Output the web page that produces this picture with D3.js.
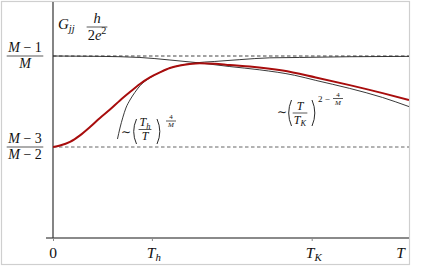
<!DOCTYPE html>
<html>
<head>
<meta charset="utf-8">
<script src="https://cdn.jsdelivr.net/npm/d3@7"></script>
<style>
  html, body { margin: 0; padding: 0; background: #fff; }
  svg { display: block; }
</style>
</head>
<body>
<svg id="chart" width="436" height="266"></svg>
<script>
// T in units of T_h, G in arbitrary units (upper plateau 0.75, lower 0.5)
var Th = 1, TK = 2.616, xMax = 3.6;
var upperLevel = 0.75, lowerLevel = 0.5;

// full crossover curve (red)
var redT = [0, 0.071, 0.172, 0.273, 0.374, 0.475, 0.576, 0.677, 0.778, 0.879, 0.980, 1.081, 1.182, 1.283, 1.384, 1.485, 1.636, 1.788, 1.990, 2.323, 2.657, 3.0, 3.333, 3.6];
var redG = [0.5, 0.504, 0.514, 0.532, 0.555, 0.580, 0.603, 0.628, 0.651, 0.673, 0.691, 0.705, 0.717, 0.724, 0.728, 0.730, 0.729, 0.725, 0.721, 0.710, 0.691, 0.670, 0.648, 0.629];

// ~ (T/T_K)^(2-4/M) asymptote
var kondoT = [0, 0.475, 0.879, 1.182, 1.485, 1.788, 2.091, 2.444, 2.657, 3.0, 3.333, 3.6];
var kondoG = [0.75, 0.749, 0.746, 0.739, 0.731, 0.721, 0.712, 0.697, 0.683, 0.661, 0.636, 0.611];

// ~ (T_h/T)^(4/M) asymptote
var hT = [0.652, 0.677, 0.707, 0.737, 0.778, 0.828, 0.879, 0.980, 1.081, 1.182, 1.283, 1.434, 1.636, 1.889, 2.192, 2.495, 3.0, 3.6];
var hG = [0.522, 0.552, 0.582, 0.607, 0.629, 0.650, 0.668, 0.690, 0.705, 0.717, 0.724, 0.731, 0.735, 0.740, 0.745, 0.746, 0.748, 0.749];

var xTicks = [0, Th, TK];
var xTickLabels = [[{t:"0"}], [{t:"T", i:true}, {t:"h", i:true, sub:true}], [{t:"T", i:true}, {t:"K", i:true, sub:true}]];

var FONT = "'Liberation Serif', 'DejaVu Serif', serif";

var svg = d3.select("#chart");

var x = d3.scaleLinear().domain([0, xMax]).range([53, 409]);
var y = d3.scaleLinear().domain([0.25, 0.9]).range([238, 1.4]);

function mathText(g, px, py, parts, size, anchor) {
  var t = g.append("text")
    .attr("x", px).attr("y", py)
    .attr("font-family", FONT)
    .attr("font-size", size)
    .attr("text-anchor", anchor || "middle")
    .attr("fill", "#111");
  var cur = 0;
  parts.forEach(function(p) {
    var shift = p.sub ? size * 0.2 : (p.sup ? -size * 0.4 : 0);
    var s = t.append("tspan").text(p.t).attr("dy", shift - cur);
    cur = shift;
    if (p.i) s.attr("font-style", "italic");
    if (p.sub || p.sup) s.attr("font-size", size * 0.7);
  });
  return t;
}

function mathFrac(g, cx, barY, num, den, size) {
  var a = mathText(g, cx, barY - size * 0.28, num, size);
  var b = mathText(g, cx, barY + size * 0.88, den, size);
  var w = Math.max(a.node().getBBox().width, b.node().getBBox().width) + 2;
  g.append("line")
    .attr("x1", cx - w / 2).attr("x2", cx + w / 2)
    .attr("y1", barY).attr("y2", barY)
    .attr("stroke", "#111").attr("stroke-width", 0.7);
}

function paren(g, px, y0, y1, open) {
  var w = 3.5, m = (y0 + y1) / 2;
  var d = open
    ? "M" + (px + w) + "," + y0 + " Q" + (px - w * 0.6) + "," + m + " " + (px + w) + "," + y1
    : "M" + px + "," + y0 + " Q" + (px + w * 1.6) + "," + m + " " + px + "," + y1;
  g.append("path").attr("d", d).attr("fill", "none").attr("stroke", "#111").attr("stroke-width", 0.9);
}

// frame
svg.append("rect")
  .attr("x", 1.5).attr("y", 1.5).attr("width", 408).attr("height", 263)
  .attr("fill", "none").attr("stroke", "#cfcfcf").attr("stroke-width", 1.2);

svg.append("clipPath").attr("id", "plotClip")
  .append("rect").attr("x", 53).attr("y", 2).attr("width", 356).attr("height", 236);

// x axis
var xAxis = svg.append("g")
  .attr("transform", "translate(0,238)")
  .call(d3.axisBottom(x).tickValues(xTicks).tickSize(3).tickSizeOuter(0).tickFormat(""));
xAxis.select(".domain").remove();
xAxis.selectAll(".tick line").attr("stroke", "#888").attr("stroke-width", 1);
svg.append("line")
  .attr("x1", x(0) - 7).attr("x2", x(xMax))
  .attr("y1", 238).attr("y2", 238)
  .attr("stroke", "#8a8a8a").attr("stroke-width", 2);

xTicks.forEach(function(v, i) {
  mathText(svg, x(v) + (i === 0 ? 0 : 2), 258, xTickLabels[i], 15.5);
});
mathText(svg, x(3.515), 258, [{t:"T", i:true}], 15.5);

// y axis
svg.append("line")
  .attr("x1", x(0)).attr("x2", x(0))
  .attr("y1", 2).attr("y2", 238)
  .attr("stroke", "#333").attr("stroke-width", 1.2);

// dashed plateau levels
[upperLevel, lowerLevel].forEach(function(v, i) {
  svg.append("line")
    .attr("x1", x(0)).attr("x2", x(xMax))
    .attr("y1", y(v)).attr("y2", y(v))
    .attr("stroke", i === 0 ? "#444" : "#666")
    .attr("stroke-width", 1)
    .attr("stroke-dasharray", "3.5,2.5");
});

// y labels
mathFrac(svg, 25, y(upperLevel), [{t:"M", i:true}, {t:" − 1"}], [{t:"M", i:true}], 14);
mathFrac(svg, 25, y(lowerLevel), [{t:"M", i:true}, {t:" − 3"}], [{t:"M", i:true}, {t:" − 2"}], 14);

// y title
mathText(svg, 58, 29, [{t:"G", i:true}, {t:"jj", i:true, sub:true}], 15, "start");
mathFrac(svg, 97, 27, [{t:"h", i:true}], [{t:"2"}, {t:"e", i:true}, {t:"2", sup:true}], 14.5);

// curves
var line = d3.line()
  .x(function(d) { return x(d[0]); })
  .y(function(d) { return y(d[1]); })
  .curve(d3.curveMonotoneX);

var plot = svg.append("g").attr("clip-path", "url(#plotClip)");

plot.append("path")
  .datum(d3.zip(kondoT, kondoG))
  .attr("d", line)
  .attr("fill", "none").attr("stroke", "#222").attr("stroke-width", 0.9);

plot.append("path")
  .datum(d3.zip(hT, hG))
  .attr("d", line)
  .attr("fill", "none").attr("stroke", "#222").attr("stroke-width", 0.9);

plot.append("path")
  .datum(d3.zip(redT, redG))
  .attr("d", line)
  .attr("fill", "none").attr("stroke", "#a80d0d").attr("stroke-width", 2);

// annotation ~ (T_h / T)^(4/M)
var a1 = svg.append("g");
mathText(a1, 126, 136, [{t:"∼"}], 12);
paren(a1, 133, 119, 144, true);
mathFrac(a1, 145, 129.5, [{t:"T", i:true}, {t:"h", i:true, sub:true}], [{t:"T", i:true}], 12);
paren(a1, 157, 119, 144, false);
mathFrac(a1, 171, 121, [{t:"4"}], [{t:"M", i:true}], 7);

// annotation ~ (T / T_K)^(2 - 4/M)
var a2 = svg.append("g");
mathText(a2, 282, 116, [{t:"∼"}], 12);
paren(a2, 288, 100, 126, true);
mathFrac(a2, 300, 113, [{t:"T", i:true}], [{t:"T", i:true}, {t:"K", i:true, sub:true}], 12);
paren(a2, 312, 100, 126, false);
mathText(a2, 318, 102, [{t:"2 −"}], 9, "start");
mathFrac(a2, 338, 98.5, [{t:"4"}], [{t:"M", i:true}], 7);
</script>
</body>
</html>
